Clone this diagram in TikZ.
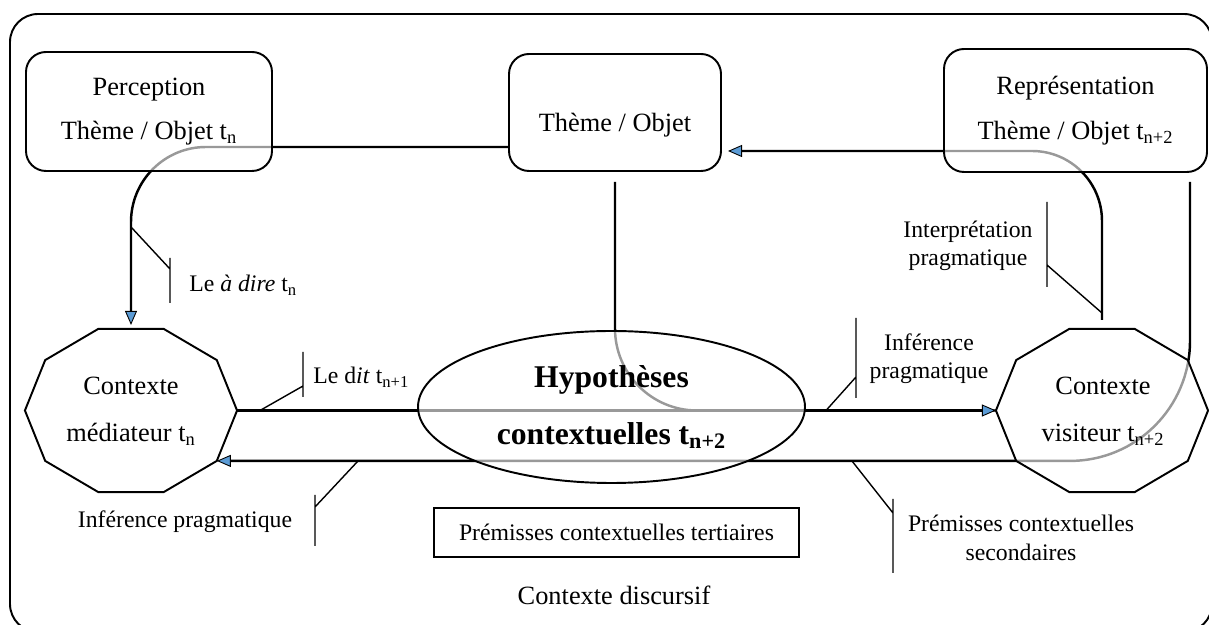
\documentclass[tikz,border=0pt]{standalone}
\usepackage{fontspec}
\setmainfont{Liberation Serif}
\usetikzlibrary{arrows.meta,shapes.geometric,backgrounds}

\definecolor{tipblue}{RGB}{91,155,213}

\tikzset{
	conn/.style={line width=1.4pt},
	tiparrow/.style={-{Triangle[length=2.8mm,width=2.4mm,fill=tipblue,line width=0.5pt]}},
	rbox/.style={draw, line width=1.1pt, rounded corners=0.4cm, fill=white, fill opacity=0.6, text opacity=1, inner sep=0pt, outer sep=0pt, align=center, font=\fontsize{15}{25.5}\selectfont},
	decag/.style={draw, line width=1.1pt, regular polygon, regular polygon sides=10, minimum size=3.43cm, inner sep=0pt, outer sep=0pt, xscale=1.237, transform shape, fill=white, fill opacity=0.6},
	dtext/.style={align=center, inner sep=0pt, font=\fontsize{15}{26.7}\selectfont},
	callout/.style={line width=0.8pt},
	lab/.style={align=center, inner sep=0pt, font=\fontsize{13.5}{16.2}\selectfont},
}

\begin{document}
\begin{tikzpicture}
		%%%%% START %%%%%
		\useasboundingbox (0,0) rectangle (24.18,12.5);
		\draw[line width=1.1pt, rounded corners=0.56cm] (0.2,-0.14) rectangle (24.24,12.22);
		
		\node[rbox, minimum width=4.92cm, minimum height=2.38cm] (percep) at (2.98,10.27) {Perception\\Thème / Objet t\textsubscript{n}};
		\node[rbox, minimum width=4.24cm, minimum height=2.34cm] (theme) at (12.30,10.25) {};
		\node[dtext] (themetxt) at (12.30,10.0) {Thème / Objet};
		\node[rbox, minimum width=5.26cm, minimum height=2.46cm] (repres) at (21.51,10.29) {Représentation\\Thème / Objet t\textsubscript{n+2}};
		
		\node[decag] (med) at (2.62,4.29) {};
		\node[dtext] (medtxt) at (2.62,4.27) {Contexte\\médiateur t\textsubscript{n}};
		\node[decag] (visit) at (22.04,4.29) {};
		\node[dtext] (vistxt) at (22.06,4.27) {Contexte\\visiteur t\textsubscript{n+2}};
		
		\node[draw, ellipse, line width=1.1pt, minimum width=7.74cm, minimum height=3.04cm, inner sep=0pt, fill=white, fill opacity=0.6, text opacity=1, align=center, font=\bfseries\fontsize{18}{32.4}\selectfont] (hypo) at (12.23,4.36) {Hypothèses\\contextuelles t\textsubscript{n+2}};
		
		\node[draw, line width=0.7pt, minimum width=7.3cm, minimum height=0.98cm, lab] (tert) at (12.33,1.85) {Prémisses contextuelles tertiaires};
		\node[dtext] (discurs) at (12.28,0.60) {Contexte discursif};
		
		\begin{pgfonlayer}{background}
		\draw[conn, tiparrow, rounded corners=1.5cm] ([yshift=-6.9mm]theme.west) -| ([yshift=0.8mm]med.north);
		\draw[conn, tiparrow, rounded corners=1.4cm] ([yshift=1.8mm]visit.north) |- ([shift={(1.4mm,-7.7mm)}]theme.east);
		\draw[conn, rounded corners=1.64cm] ([yshift=-2.2mm]theme.south) |- (visit.west);
		\draw[conn, tiparrow] (med.east) -- (visit.west);
		\draw[conn, tiparrow, rounded corners=2.4cm] ([shift={(-3.4mm,-2mm)}]repres.south east) |- (med.-36);
		\end{pgfonlayer}
		
		\draw[callout] (2.62,7.96) -- (3.4,7.12) (3.4,7.34) -- (3.4,6.44);
		\node[lab, anchor=west] (ladire) at (3.78,6.8) {Le \textit{à dire} t\textsubscript{n}};
		
		\draw[callout] (5.2,4.29) -- (6.06,4.78) (6.06,5.46) -- (6.06,4.56);
		\node[lab, anchor=west] (ledit) at (6.26,4.96) {Le d\textit{it} t\textsubscript{n+1}};
		
		\draw[callout] (7.16,3.28) -- (6.3,2.36) (6.3,2.6) -- (6.3,1.58);
		\node[lab] (infleft) at (3.7,2.06) {Inférence pragmatique};
		
		\draw[callout] (16.52,4.29) -- (17.12,4.96) (17.12,6.14) -- (17.12,4.54);
		\node[lab] (infright) at (18.58,5.33) {Inférence\\pragmatique};
		
		\draw[callout] (17.04,3.28) -- (17.86,2.24) (17.86,2.52) -- (17.86,1.04);
		\node[lab] (premsec) at (20.42,1.74) {Prémisses contextuelles\\secondaires};
		
		\draw[callout] (20.94,8.46) -- (20.94,6.76) (20.94,7.2) -- (22.04,6.24);
		\node[lab] (interp) at (19.36,7.58) {Interprétation\\pragmatique};
		%%%%% END %%%%%
\end{tikzpicture}
\end{document}
